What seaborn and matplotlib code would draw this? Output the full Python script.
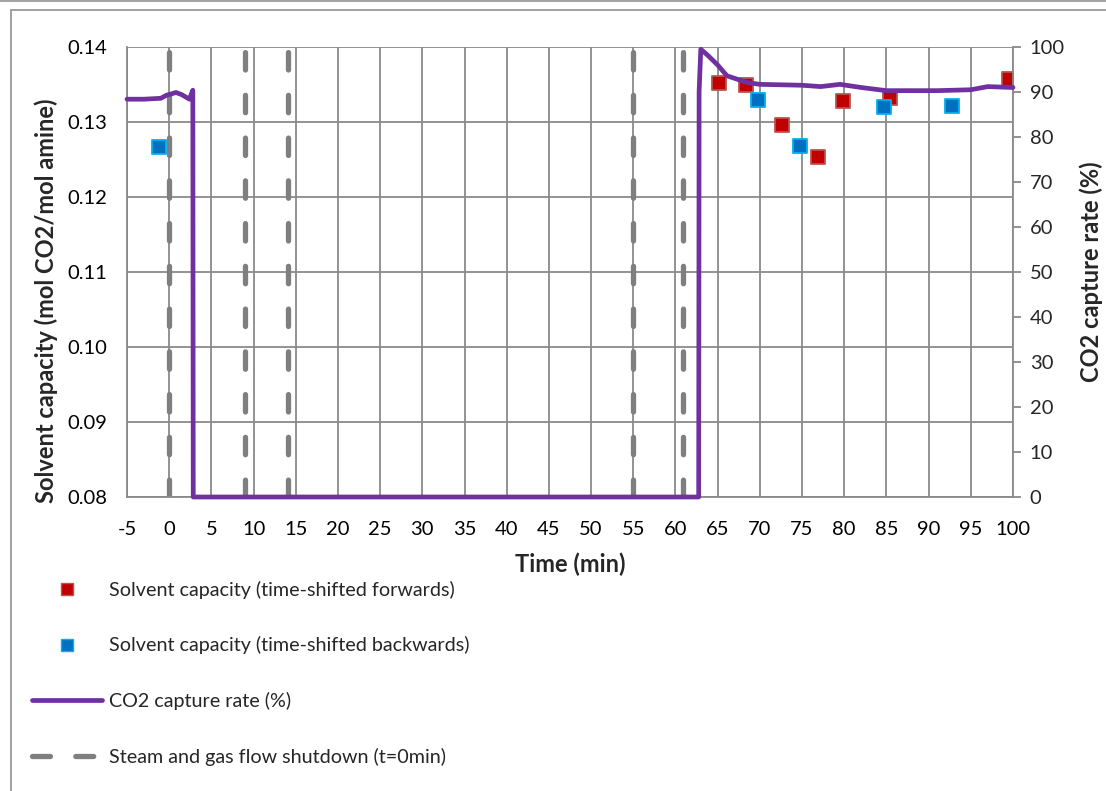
import numpy as np
import pandas as pd

import seaborn as sns
import matplotlib.pyplot as plt
from matplotlib.lines import Line2D


# capture rate trace (right axis)
time_min = [-5, -3, -1.0, -0.3, 0.3, 0.8, 1.5, 2.4, 2.8, 2.85,
            62.75, 62.8, 63.0, 63.8, 65.0, 66.1, 68.5, 70.0, 75.0,
            77.2, 79.5, 82.0, 85.0, 91.0, 95.0, 97.0, 100.0]
capture_rate = [88.4, 88.4, 88.6, 89.3, 89.6, 89.9, 89.4, 88.4, 90.4, 0,
                0, 90.0, 99.5, 98.2, 96.0, 93.6, 92.1, 91.7, 91.5,
                91.2, 91.7, 91.0, 90.3, 90.3, 90.5, 91.2, 91.0]

# solvent capacity points (left axis)
fwd_time = [65.2, 68.4, 72.6, 76.9, 79.8, 85.4, 99.5]
fwd_capacity = [0.1352, 0.1349, 0.1296, 0.1254, 0.1328, 0.1332, 0.1358]

bwd_time = [-1.2, 69.8, 74.8, 84.7, 92.8]
bwd_capacity = [0.1267, 0.1329, 0.1268, 0.1320, 0.1322]

# shutdown markers
shutdown_times = [0, 9.0, 14.1, 55.0, 60.9]

x_ticks = list(range(-5, 101, 5))
left_ticks = [0.08, 0.09, 0.10, 0.11, 0.12, 0.13, 0.14]
right_ticks = list(range(0, 101, 10))

sns.set_style("white")
plt.rcParams["font.family"] = ["Lato", "DejaVu Sans"]
plt.rcParams["axes.unicode_minus"] = False

GRID = "#8a8a8a"
PURPLE = "#7030A0"
DASH_GRAY = "#7f7f7f"

fig = plt.figure(figsize=(11.06, 7.91), dpi=100)
ax = fig.add_axes([127 / 1106, 1 - 497 / 791, 886 / 1106, 450 / 791])
ax2 = ax.twinx()

fwd = pd.DataFrame({"t": fwd_time, "c": fwd_capacity})
bwd = pd.DataFrame({"t": bwd_time, "c": bwd_capacity})
rate = pd.DataFrame({"t": time_min, "r": capture_rate})

for t in shutdown_times:
    ax.axvline(t, color=DASH_GRAY, lw=3.8, dashes=(3.3, 4.8),
               dash_capstyle="round", zorder=2)

sns.scatterplot(data=fwd, x="t", y="c", ax=ax, marker="s", s=100,
                color="#C00000", edgecolor="#B85450", linewidth=1.3,
                zorder=3, legend=False)
sns.scatterplot(data=bwd, x="t", y="c", ax=ax, marker="s", s=100,
                color="#0070C0", edgecolor="#00B0F0", linewidth=1.3,
                zorder=3, legend=False)

sns.lineplot(data=rate, x="t", y="r", ax=ax2, color=PURPLE, lw=3.4,
             estimator=None, sort=False, zorder=4)
for l in ax2.lines:
    l.set_clip_on(False)

ax.set_xlim(-5, 100)
ax.set_ylim(0.08, 0.14)
ax2.set_ylim(0, 100)
ax.set_xticks(x_ticks)
ax.set_yticks(left_ticks)
ax.set_yticklabels([f"{v:.2f}" for v in left_ticks])
ax2.set_yticks(right_ticks)

ax.grid(True, color=GRID, lw=1.3)
ax.set_axisbelow(True)
for sp in ["top", "right"]:
    ax.spines[sp].set_visible(False)
for sp in ["left", "bottom"]:
    ax.spines[sp].set_color(GRID)
    ax.spines[sp].set_linewidth(1.3)
for sp in ["top", "left", "bottom"]:
    ax2.spines[sp].set_visible(False)
ax2.spines["right"].set_color(GRID)
ax2.spines["right"].set_linewidth(1.3)

ax.tick_params(axis="x", length=0, labelsize=14.5, pad=17, colors="black")
ax.tick_params(axis="y", length=0, labelsize=14.5, pad=14, colors="black")
ax2.tick_params(axis="y", length=6, width=1.3, color=GRID, direction="out",
                labelsize=14.5, pad=6)

ax.set_xlabel("Time (min)", fontsize=17, fontweight="bold")
ax.set_ylabel("Solvent capacity (mol CO2/mol amine)", fontsize=17,
              fontweight="bold")
ax2.set_ylabel("CO2 capture rate (%)", fontsize=17, fontweight="bold")
ax.xaxis.set_label_coords(0.5, -(553 - 497) / 450)
ax.yaxis.set_label_coords((58 - 127) / 886, (497 - 301) / 450)
ax2.yaxis.set_label_coords((1079 - 127) / 886, 0.5)

handles = [
    Line2D([], [], ls="none", marker="s", ms=8.5, mfc="#C00000",
           mec="#B85450", mew=1),
    Line2D([], [], ls="none", marker="s", ms=8.5, mfc="#0070C0",
           mec="#00B0F0", mew=1),
    Line2D([], [], color=PURPLE, lw=3.4),
    Line2D([], [], color=DASH_GRAY, lw=3.8, dashes=(3.4, 4.8),
           dash_capstyle="round"),
]
labels = [
    "Solvent capacity (time-shifted forwards)",
    "Solvent capacity (time-shifted backwards)",
    "CO2 capture rate (%)",
    "Steam and gas flow shutdown (t=0min)",
]
fig.legend(handles, labels, loc="upper left",
           bbox_to_anchor=(22 / 1106, 1 - 571 / 791), frameon=False,
           fontsize=14.2, labelspacing=1.9, handlelength=3.55,
           handletextpad=0.35, borderpad=0)

# outer chart border
BORDER = "#9a9a9a"
fig.add_artist(Line2D([0, 1], [1 - 0.7 / 791, 1 - 0.7 / 791],
                      transform=fig.transFigure, color=BORDER, lw=1.3))
fig.add_artist(Line2D([11 / 1106, 1], [1 - 9.5 / 791, 1 - 9.5 / 791],
                      transform=fig.transFigure, color=BORDER, lw=1.3))
fig.add_artist(Line2D([11 / 1106, 11 / 1106], [0, 1 - 9.5 / 791],
                      transform=fig.transFigure, color=BORDER, lw=1.3))

plt.savefig("out.png", dpi=100)
plt.close()
